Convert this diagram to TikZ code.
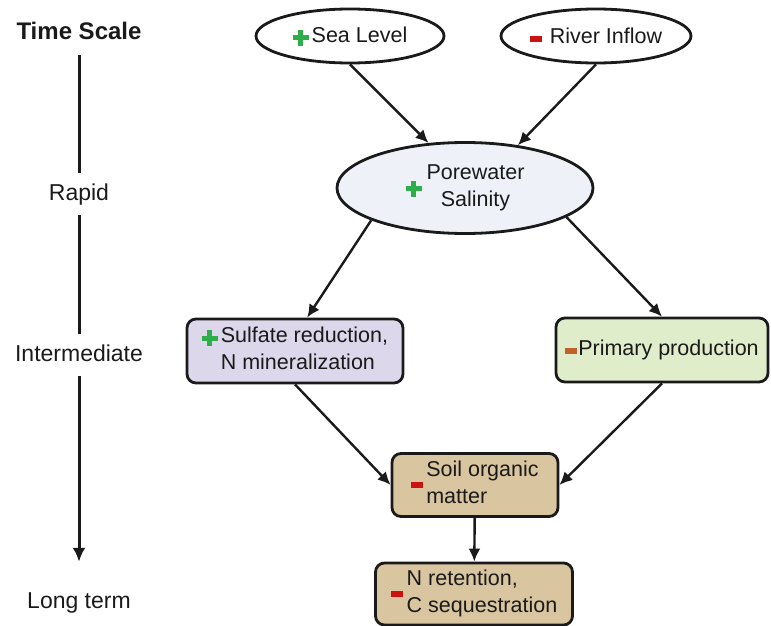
\documentclass[tikz,border=0pt]{standalone}
\usepackage{fontspec}
\setmainfont{Liberation Sans}
\usetikzlibrary{arrows.meta,positioning,shapes.geometric}
\definecolor{ink}{HTML}{1A1A1A}
\definecolor{plusgreen}{HTML}{2EAD4B}
\definecolor{minusred}{HTML}{CC1111}
\definecolor{minusrust}{HTML}{C0602B}
\definecolor{saltfill}{HTML}{EEF2F8}
\definecolor{sulfill}{HTML}{DCD7EA}
\definecolor{primfill}{HTML}{DFEDCB}
\definecolor{soilfill}{HTML}{D9C59F}
\newcommand{\upmark}{\textcolor{plusgreen}{\rule[2pt]{16pt}{5pt}\kern-10.5pt\rule[-3.5pt]{5pt}{16pt}\kern5.5pt}}
\newcommand{\downmark}[1][minusred]{\textcolor{#1}{\rule[2pt]{12pt}{6pt}}}
\tikzset{
  tslabel/.style={font=\fontsize{23}{27}\selectfont, text=ink, text height=17pt, text depth=5pt, inner sep=10pt},
  tstitle/.style={tslabel, font=\fontsize{24}{28}\selectfont\bfseries},
  driver/.style={
    ellipse,
    draw=ink,
    line width=2.8pt,
    fill=white,
    inner sep=0pt,
    text=ink,
    font=\fontsize{21.5}{27}\selectfont
  },
  procbox/.style={
    rectangle,
    rounded corners=9pt,
    draw=ink,
    line width=2.8pt,
    inner sep=0pt,
    text=ink,
    align=left,
    font=\fontsize{21.5}{27}\selectfont
  },
  flow/.style={-{Latex[length=13pt,width=12pt]}, line width=2.4pt, draw=ink},
  timeline/.style={line width=3pt, draw=ink}
}

\begin{document}
\begin{tikzpicture}[x=1pt,y=-1pt]
  \useasboundingbox (0,0) rectangle (771,626);

  % time scale column
  \node[tstitle] (tscale) at (79,34) {Time Scale};
  \node[tslabel] (rapid) at (79,194) {Rapid};
  \node[tslabel] (inter) at (79,355) {Intermediate};
  \node[tslabel] (longterm) at (79,602) {Long term};

  \draw[timeline] (tscale.south) -- (rapid.north);
  \draw[timeline] (rapid.south) -- (inter.north);
  \draw[timeline, -{Latex[length=14pt,width=13pt]}, shorten >=19pt] (inter.south) -- (longterm.north);

  % drivers
  \node[driver, minimum width=188, minimum height=54] (sea) at (350,36) {\upmark\kern3pt Sea Level};
  \node[driver, minimum width=190, minimum height=54] (river) at (596,36) {\downmark\kern8pt River Inflow};
  \node[driver, fill=saltfill, minimum width=256, minimum height=91] (salt) at (465,188)
    {\upmark\kern5pt\begin{tabular}{@{}c@{}}Porewater\\Salinity\end{tabular}};

  % responses
  \node[procbox, fill=sulfill, minimum width=216, minimum height=64] (sulfate) at (295,351)
    {\upmark\kern3pt\begin{tabular}[t]{@{}l@{}}Sulfate reduction,\\N mineralization\end{tabular}};
  \node[procbox, fill=primfill, minimum width=212, minimum height=64] (primary) at (662,350)
    {\downmark[minusrust]\kern1pt Primary production};
  \node[procbox, fill=soilfill, minimum width=166, minimum height=63] (soil) at (475,485)
    {\downmark\kern3pt\begin{tabular}{@{}l@{}}Soil organic\\matter\end{tabular}};
  \node[procbox, fill=soilfill, minimum width=197, minimum height=62] (nret) at (474,594)
    {\downmark\kern4pt\begin{tabular}{@{}l@{}}N retention,\\C sequestration\end{tabular}};

  \draw[flow] (sea.south) -- (salt.129);
  \draw[flow] (river.south) -- (salt.39);
  \draw[flow] (salt.199) -- (sulfate.70);
  \draw[flow] (salt.-16) -- (primary.north);
  \draw[flow] (sulfate.south) -- (soil.west);
  \draw[flow] (primary.south) -- (soil.east);
  \draw[flow] (soil) -- (nret);
\end{tikzpicture}
\end{document}
